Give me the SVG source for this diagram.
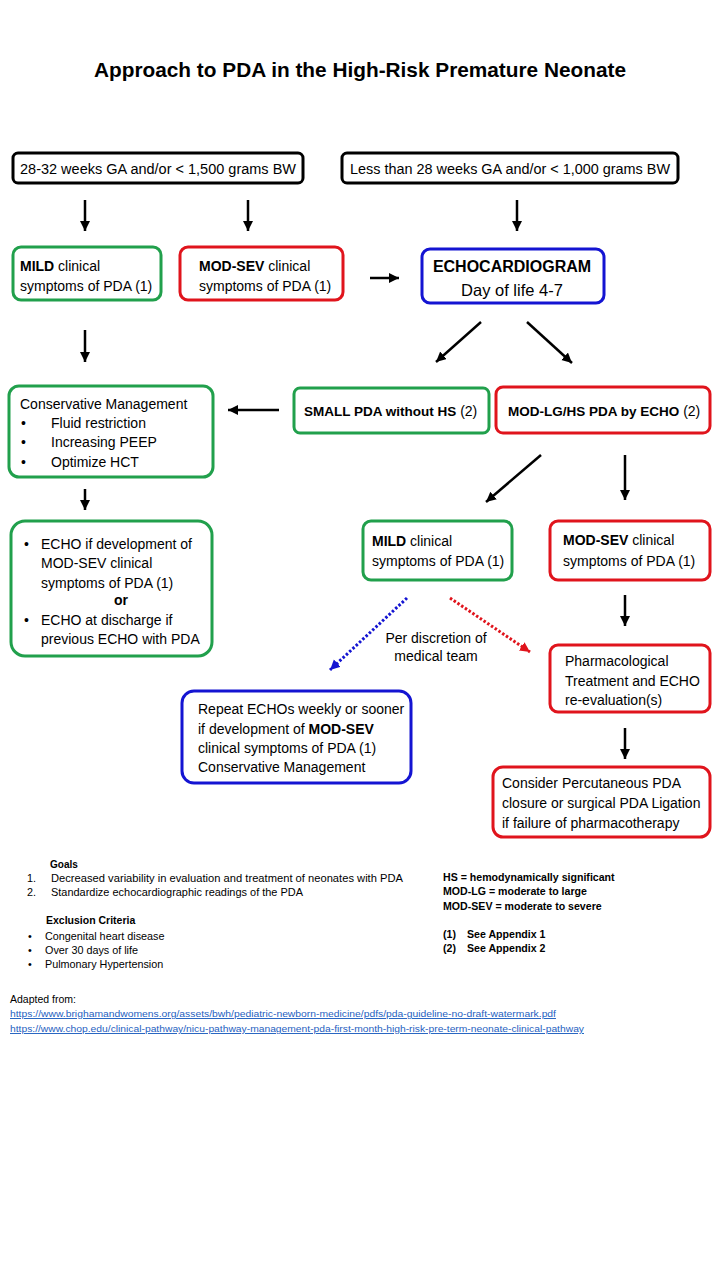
<svg xmlns="http://www.w3.org/2000/svg" width="720" height="1280" viewBox="0 0 720 1280">
<defs>
<style>
text{font-family:"Liberation Sans",Arial,sans-serif;fill:#000}
.t{font-size:14px}
.b{font-weight:bold}
.box{fill:#fff;stroke-width:3}
.g{stroke:#21a04c}
.r{stroke:#e0141c}
.bl{stroke:#1414d2}
.k{stroke:#000}
.ar{stroke:#000;stroke-width:2.5;fill:none;marker-end:url(#ah)}
.sm{font-size:10.8px}
.lk{font-size:9.5px;fill:#1f5fbf;text-decoration:underline}
.rt{font-size:10.6px;font-weight:bold}
</style>
<marker id="ah" markerUnits="userSpaceOnUse" markerWidth="12" markerHeight="12" refX="10" refY="5" orient="auto"><path d="M0,0 L10,5 L0,10 Z" fill="#000"/></marker>
<marker id="ahb" markerUnits="userSpaceOnUse" markerWidth="12" markerHeight="12" refX="10" refY="5" orient="auto"><path d="M0,0 L10,5 L0,10 Z" fill="#1414d2"/></marker>
<marker id="ahr" markerUnits="userSpaceOnUse" markerWidth="12" markerHeight="12" refX="10" refY="5" orient="auto"><path d="M0,0 L10,5 L0,10 Z" fill="#e0141c"/></marker>
</defs>
<rect width="720" height="1280" fill="#fff"/>
<text x="360" y="77" text-anchor="middle" class="b" font-size="20.5" textLength="532" lengthAdjust="spacingAndGlyphs">Approach to PDA in the High-Risk Premature Neonate</text>

<g id="connectors">
<line class="ar" x1="85" y1="200" x2="85" y2="231"/>
<line class="ar" x1="248" y1="200" x2="248" y2="231"/>
<line class="ar" x1="517" y1="200" x2="517" y2="231"/>
<line class="ar" x1="370" y1="278" x2="399" y2="278"/>
<line class="ar" x1="481" y1="322" x2="436" y2="362"/>
<line class="ar" x1="527" y1="322" x2="572" y2="363"/>
<line class="ar" x1="85" y1="330" x2="85" y2="362"/>
<line class="ar" x1="279" y1="410" x2="228" y2="410"/>
<line class="ar" x1="85" y1="489" x2="85" y2="510"/>
<line class="ar" x1="541" y1="455" x2="486" y2="502"/>
<line class="ar" x1="625" y1="455" x2="625" y2="500"/>
<line class="ar" x1="625" y1="595" x2="625" y2="626"/>
<line class="ar" x1="625" y1="728" x2="625" y2="759"/>
<line x1="407" y1="598" x2="330" y2="670" stroke="#1414d2" stroke-width="3" stroke-dasharray="2.5,2" marker-end="url(#ahb)"/>
<line x1="450" y1="598" x2="530" y2="652" stroke="#e0141c" stroke-width="3" stroke-dasharray="2.5,2" marker-end="url(#ahr)"/>
<text x="436" y="643" text-anchor="middle" class="t">Per discretion of</text>
<text x="436" y="661" text-anchor="middle" class="t">medical team</text>
</g>

<g id="n_ga32">
<rect class="box k" x="13" y="153" width="290" height="30" rx="5"/>
<text x="158" y="174" text-anchor="middle" class="t" textLength="276" lengthAdjust="spacingAndGlyphs">28-32 weeks GA and/or &lt; 1,500 grams BW</text>
</g>
<g id="n_ga28">
<rect class="box k" x="342" y="153" width="336" height="30" rx="5"/>
<text x="510" y="174" text-anchor="middle" class="t" textLength="320" lengthAdjust="spacingAndGlyphs">Less than 28 weeks GA and/or &lt; 1,000 grams BW</text>
</g>
<g id="n_mild1">
<rect class="box g" x="13" y="247" width="148" height="53" rx="8"/>
<text x="20" y="271" class="t"><tspan class="b">MILD</tspan> clinical</text>
<text x="20" y="291" class="t">symptoms of PDA (1)</text>
</g>
<g id="n_modsev1">
<rect class="box r" x="180" y="247" width="163" height="53" rx="8"/>
<text x="199" y="271" class="t"><tspan class="b">MOD-SEV</tspan> clinical</text>
<text x="199" y="291" class="t">symptoms of PDA (1)</text>
</g>
<g id="n_echo">
<rect class="box bl" x="422" y="249" width="182" height="54" rx="8"/>
<text x="512" y="272" text-anchor="middle" class="b" font-size="16">ECHOCARDIOGRAM</text>
<text x="512" y="296" text-anchor="middle" font-size="16.5">Day of life 4-7</text>
</g>
<g id="n_conserv">
<rect class="box g" x="9" y="386" width="204" height="91" rx="10"/>
<text x="20" y="409" class="t">Conservative Management</text>
<text x="21" y="428" class="t">•</text><text x="51" y="428" class="t">Fluid restriction</text>
<text x="21" y="447" class="t">•</text><text x="51" y="447" class="t">Increasing PEEP</text>
<text x="21" y="467" class="t">•</text><text x="51" y="467" class="t">Optimize HCT</text>
</g>
<g id="n_small">
<rect class="box g" x="294" y="388" width="195" height="45" rx="6"/>
<text x="304" y="416" class="t"><tspan class="b" font-size="13.5">SMALL PDA without HS</tspan> (2)</text>
</g>
<g id="n_modlg">
<rect class="box r" x="496" y="387" width="214" height="46" rx="7"/>
<text x="508" y="416" class="t"><tspan class="b" font-size="13.5">MOD-LG/HS PDA by ECHO</tspan> (2)</text>
</g>
<g id="n_echoif">
<rect class="box g" x="11" y="521" width="201" height="135" rx="14"/>
<text x="24" y="549" class="t">•</text><text x="41" y="549" class="t">ECHO if development of</text>
<text x="41" y="568" class="t">MOD-SEV clinical</text>
<text x="41" y="588" class="t">symptoms of PDA (1)</text>
<text x="121" y="605" text-anchor="middle" class="t b">or</text>
<text x="24" y="625" class="t">•</text><text x="41" y="625" class="t">ECHO at discharge if</text>
<text x="41" y="644" class="t">previous ECHO with PDA</text>
</g>
<g id="n_mild2">
<rect class="box g" x="363" y="521" width="149" height="59" rx="8"/>
<text x="372" y="546" class="t"><tspan class="b">MILD</tspan> clinical</text>
<text x="372" y="566" class="t">symptoms of PDA (1)</text>
</g>
<g id="n_modsev2">
<rect class="box r" x="550" y="521" width="160" height="59" rx="8"/>
<text x="563" y="545" class="t"><tspan class="b">MOD-SEV</tspan> clinical</text>
<text x="563" y="566" class="t">symptoms of PDA (1)</text>
</g>
<g id="n_pharm">
<rect class="box r" x="550" y="645" width="160" height="67" rx="8"/>
<text x="565" y="666" class="t">Pharmacological</text>
<text x="565" y="686" class="t">Treatment and ECHO</text>
<text x="565" y="705" class="t">re-evaluation(s)</text>
</g>
<g id="n_repeat">
<rect class="box bl" x="182" y="691" width="229" height="92" rx="12"/>
<text x="198" y="714" class="t">Repeat ECHOs weekly or sooner</text>
<text x="198" y="734" class="t">if development of <tspan class="b">MOD-SEV</tspan></text>
<text x="198" y="753" class="t">clinical symptoms of PDA (1)</text>
<text x="198" y="772" class="t">Conservative Management</text>
</g>
<g id="n_consider">
<rect class="box r" x="493" y="767" width="217" height="70" rx="10"/>
<text x="502" y="788" class="t">Consider Percutaneous PDA</text>
<text x="502" y="808" class="t">closure or surgical PDA Ligation</text>
<text x="502" y="828" class="t">if failure of pharmacotherapy</text>
</g>

<g id="notes">
<text x="50" y="868" class="b" font-size="10">Goals</text>
<text x="27" y="882" class="sm">1.</text><text x="51" y="882" class="sm" textLength="352" lengthAdjust="spacingAndGlyphs">Decreased variability in evaluation and treatment of neonates with PDA</text>
<text x="27" y="896" class="sm">2.</text><text x="51" y="896" class="sm" textLength="252" lengthAdjust="spacingAndGlyphs">Standardize echocardiographic readings of the PDA</text>
<text x="46" y="924" class="b" font-size="10.5">Exclusion Criteria</text>
<text x="28" y="940" class="sm">•</text><text x="45" y="940" class="sm">Congenital heart disease</text>
<text x="28" y="954" class="sm">•</text><text x="45" y="954" class="sm">Over 30 days of life</text>
<text x="28" y="968" class="sm">•</text><text x="45" y="968" class="sm">Pulmonary Hypertension</text>
<text x="443" y="881" class="rt">HS = hemodynamically significant</text>
<text x="443" y="895" class="rt">MOD-LG = moderate to large</text>
<text x="443" y="910" class="rt">MOD-SEV = moderate to severe</text>
<text x="443" y="938" class="rt">(1)</text><text x="467" y="938" class="rt">See Appendix 1</text>
<text x="443" y="952" class="rt">(2)</text><text x="467" y="952" class="rt">See Appendix 2</text>
<text x="10" y="1003" font-size="10.5">Adapted from:</text>
<text x="10" y="1017" class="lk" textLength="546" lengthAdjust="spacingAndGlyphs">https://www.brighamandwomens.org/assets/bwh/pediatric-newborn-medicine/pdfs/pda-guideline-no-draft-watermark.pdf</text>
<text x="10" y="1032" class="lk" textLength="574" lengthAdjust="spacingAndGlyphs">https://www.chop.edu/clinical-pathway/nicu-pathway-management-pda-first-month-high-risk-pre-term-neonate-clinical-pathway</text>
</g>
</svg>
